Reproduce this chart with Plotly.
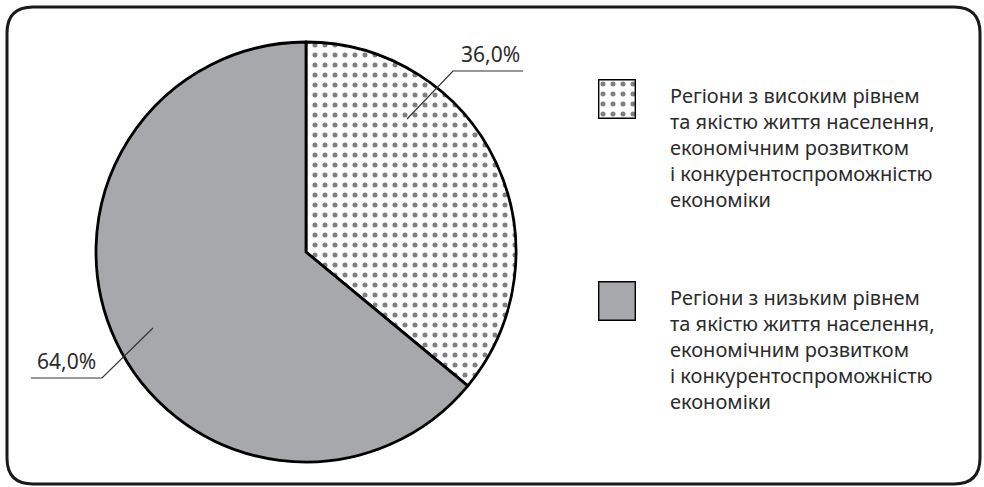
import plotly.graph_objects as go

# --- data ---
labels = [
    "Регіони з високим рівнем<br>та якістю життя населення,<br>економічним розвитком<br>і конкурентоспроможністю<br>економіки",
    "Регіони з низьким рівнем<br>та якістю життя населення,<br>економічним розвитком<br>і конкурентоспроможністю<br>економіки",
]
values = [36.0, 64.0]
value_text = ["36,0%", "64,0%"]

W, H = 984, 487
GRAY = "#a7a8ac"
TXT = "#2b2b2b"
FONT = "Noto Sans"
DOTS = 0.2


def px(x):
    return x / W


def py(y):
    return 1 - y / H


fig = go.Figure()

# main pie
fig.add_trace(go.Pie(
    labels=["high", "low"], values=values, sort=False, direction="clockwise",
    rotation=0, textinfo="none", hoverinfo="label+percent", showlegend=False,
    domain=dict(x=[px(96), px(516)], y=[py(462), py(42)]),
    marker=dict(
        colors=["white", GRAY],
        line=dict(color="black", width=2.8),
        pattern=dict(shape=[".", ""], fgcolor=["black", GRAY], bgcolor=["white", GRAY],
                     size=10, solidity=DOTS, fillmode="overlay"),
    ),
))

# legend swatches drawn as bars so the dot pattern can be reused
swatches = [(79, 119, ".", "white"), (281, 321, "", GRAY)]
for i, (y0, y1, shp, col) in enumerate(swatches):
    ax = i + 2
    fig.add_trace(go.Bar(
        x=[0], y=[1], width=[1], xaxis=f"x{ax}", yaxis=f"y{ax}", showlegend=False,
        hoverinfo="skip",
        marker=dict(color=col, line=dict(color="black", width=2.8),
                    pattern=dict(shape=shp, fgcolor="black", bgcolor=col, size=10,
                                 solidity=DOTS, fillmode="overlay")),
    ))
    fig.layout[f"xaxis{ax}"] = dict(domain=[px(598), px(636)], range=[-0.5, 0.5], visible=False,
                                    fixedrange=True)
    fig.layout[f"yaxis{ax}"] = dict(domain=[py(y1), py(y0)], range=[0, 1], visible=False,
                                    fixedrange=True)

fig.update_layout(xaxis=dict(visible=False), yaxis=dict(visible=False))

# legend text
for lab, ytop in zip(labels, [80, 282]):
    fig.add_annotation(text=lab, xref="paper", yref="paper", x=px(668), y=py(ytop),
                       xanchor="left", yanchor="top", align="left", showarrow=False,
                       font=dict(family=FONT, size=20, color=TXT))

# value labels with leader lines
leaders = [
    [(407, 119), (453, 71), (523, 71)],
    [(153, 328), (102, 378), (31, 378)],
]
for pts in leaders:
    path = "M " + " L ".join(f"{px(x)},{py(y)}" for x, y in pts)
    fig.add_shape(type="path", path=path, xref="paper", yref="paper",
                  line=dict(color="#333333", width=1.2))
fig.add_annotation(text=value_text[0], xref="paper", yref="paper", x=px(522), y=py(70),
                   xanchor="right", yanchor="bottom", showarrow=False,
                   font=dict(family=FONT, size=21, color=TXT))
fig.add_annotation(text=value_text[1], xref="paper", yref="paper", x=px(35), y=py(377),
                   xanchor="left", yanchor="bottom", showarrow=False,
                   font=dict(family=FONT, size=21, color=TXT))

# rounded frame
l, r, t, b, c = 7, 980, 7, 484, 26
frame = (f"M {px(l + c)},{py(t)} L {px(r - c)},{py(t)} Q {px(r)},{py(t)} {px(r)},{py(t + c)} "
         f"L {px(r)},{py(b - c)} Q {px(r)},{py(b)} {px(r - c)},{py(b)} "
         f"L {px(l + c)},{py(b)} Q {px(l)},{py(b)} {px(l)},{py(b - c)} "
         f"L {px(l)},{py(t + c)} Q {px(l)},{py(t)} {px(l + c)},{py(t)} Z")
fig.add_shape(type="path", path=frame, xref="paper", yref="paper",
              line=dict(color="#1a1a1a", width=3), layer="below")

fig.update_layout(width=W, height=H, margin=dict(l=0, r=0, t=0, b=0),
                  paper_bgcolor="white", plot_bgcolor="white",
                  font=dict(family=FONT, color=TXT))

# drop the default 8px body margin so the figure sits at the page origin
fig.write_html("out.html", config={"displayModeBar": False},
               post_script="document.body.style.margin='0';")
